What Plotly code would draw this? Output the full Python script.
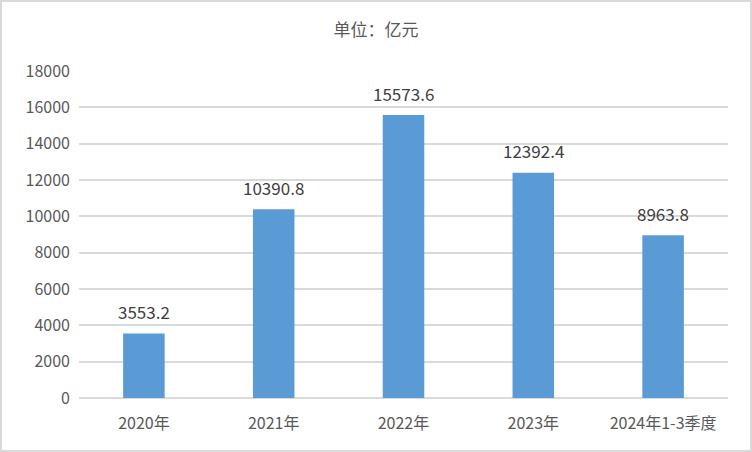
import plotly.graph_objects as go

categories = ["2020年", "2021年", "2022年", "2023年", "2024年1-3季度"]
values = [3553.2, 10390.8, 15573.6, 12392.4, 8963.8]
labels = ["3553.2", "10390.8", "15573.6", "12392.4", "8963.8"]
tick_vals = [0, 2000, 4000, 6000, 8000, 10000, 12000, 14000, 16000, 18000]
tick_text = ["0", "2000", "4000", "6000", "8000", "10000", "12000", "14000", "16000", "18000"]
title_text = "单位：亿元"

font_family = "Noto Sans CJK SC, Liberation Sans Narrow, sans-serif"

fig = go.Figure(go.Bar(
    x=categories, y=values,
    marker=dict(color="#5B9BD5", line=dict(width=0)),
    width=0.32, hoverinfo="skip",
))

for c, v, t in zip(categories, values, labels):
    fig.add_annotation(x=c, y=v, text=t, showarrow=False, yanchor="middle", yshift=22,
                       font=dict(size=17, color="#404040", family=font_family))

fig.update_layout(
    width=752, height=452,
    margin=dict(l=79, r=24, t=71, b=54),
    paper_bgcolor="white", plot_bgcolor="white",
    title=dict(text=title_text, x=0.5, xanchor="center", y=0.933, yanchor="middle",
               font=dict(size=17, color="#595959", family=font_family)),
    showlegend=False,
    xaxis=dict(showgrid=False, showline=False, ticks="",
               tickfont=dict(size=16, color="#595959", family=font_family),
               ticklabelstandoff=14),
    yaxis=dict(range=[0, 18000], tickvals=tick_vals, ticktext=tick_text, showgrid=True,
               gridcolor="#D9D9D9", gridwidth=1.5, zeroline=True,
               zerolinecolor="#D9D9D9", zerolinewidth=1.5, ticks="",
               tickfont=dict(size=16, color="#595959", family=font_family),
               ticklabelstandoff=8),
    shapes=[dict(type="rect", xref="paper", yref="paper", x0=-78/649, x1=1+23/649,
                 y0=-53/327, y1=1+70/327, line=dict(color="#D9D9D9", width=2))],
)

fig.write_html("out.html", config={"displayModeBar": False},
               post_script="document.body.style.margin='0';document.body.style.padding='0';")
